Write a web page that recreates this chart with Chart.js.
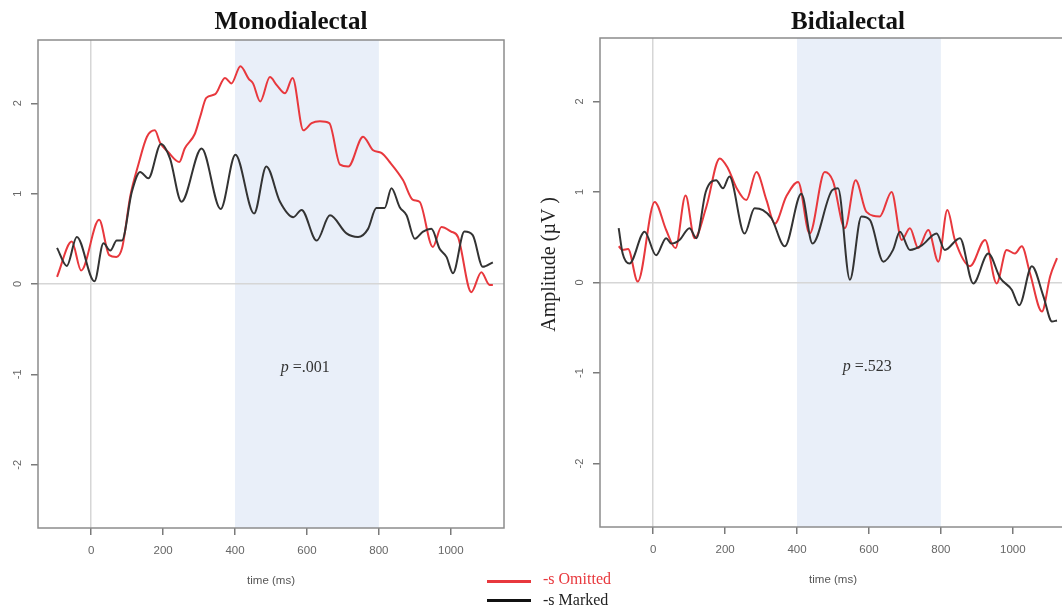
<!DOCTYPE html>
<html>
<head>
<meta charset="utf-8">
<script src="https://cdn.jsdelivr.net/npm/chart.js@4.4.1/dist/chart.umd.min.js"></script>
<style>
  html, body { margin: 0; padding: 0; background: #fff; width: 1062px; height: 609px; overflow: hidden; }
  canvas { position: absolute; top: 0; }
  #mono { left: 0; }
  #bi { left: 531px; }
  .key-line { position: absolute; left: 487px; width: 44px; height: 3px; }
  .key-text { position: absolute; left: 543px; font-family: 'Liberation Serif', serif; font-size: 16px; line-height: 18px; white-space: nowrap; }
</style>
</head>
<body>
<canvas id="mono" width="531" height="609"></canvas>
<canvas id="bi" width="540" height="609"></canvas>

<div class="key-line" style="top:580px; background:#e8383d"></div>
<div class="key-text" style="top:570px; color:#e8383d">-s Omitted</div>
<div class="key-line" style="top:599px; background:#111"></div>
<div class="key-text" style="top:591px; color:#222">-s Marked</div>

<script>
// time (ms) and amplitude (µV)
const monoOmittedTime = [-95, -54, -28, 22, 50, 70, 86, 109, 131, 155, 177, 192, 214, 245, 260, 288, 303, 320, 345, 372, 390, 415, 438, 450, 470, 497, 516, 539, 560, 590, 613, 636, 662, 692, 715, 756, 784, 807, 830, 867, 895, 913, 950, 974, 1001, 1020, 1057, 1085, 1108, 1117];
const monoOmittedAmp  = [0.08, 0.47, 0.15, 0.71, 0.32, 0.30, 0.40, 0.98, 1.32, 1.63, 1.70, 1.56, 1.46, 1.35, 1.50, 1.66, 1.85, 2.06, 2.10, 2.28, 2.22, 2.41, 2.27, 2.22, 2.02, 2.29, 2.20, 2.11, 2.28, 1.70, 1.78, 1.80, 1.78, 1.32, 1.30, 1.63, 1.48, 1.45, 1.35, 1.15, 0.93, 0.91, 0.41, 0.63, 0.58, 0.52, -0.09, 0.13, -0.01, -0.01];

const monoMarkedTime = [-95, -68, -40, 9, 34, 53, 71, 85, 113, 136, 159, 194, 219, 251, 307, 360, 401, 453, 487, 525, 562, 585, 627, 664, 710, 742, 770, 793, 816, 835, 858, 877, 900, 923, 946, 969, 988, 1006, 1038, 1061, 1089, 1117];
const monoMarkedAmp  = [0.40, 0.20, 0.52, 0.03, 0.45, 0.37, 0.48, 0.48, 1.02, 1.24, 1.17, 1.55, 1.39, 0.91, 1.50, 0.83, 1.43, 0.78, 1.30, 0.91, 0.74, 0.82, 0.48, 0.76, 0.56, 0.52, 0.61, 0.84, 0.84, 1.06, 0.85, 0.76, 0.50, 0.58, 0.61, 0.39, 0.30, 0.12, 0.58, 0.54, 0.19, 0.24];

const biOmittedTime = [-96, -85, -70, -43, 4, 36, 62, 90, 115, 148, 185, 208, 231, 259, 287, 315, 338, 370, 403, 435, 477, 500, 533, 563, 593, 630, 663, 691, 714, 737, 765, 793, 818, 839, 881, 923, 955, 983, 1006, 1025, 1048, 1081, 1104, 1123];
const biOmittedAmp  = [0.40, 0.36, 0.37, 0.01, 0.89, 0.58, 0.38, 0.96, 0.49, 0.84, 1.37, 1.26, 1.05, 0.91, 1.22, 0.91, 0.65, 0.95, 1.11, 0.54, 1.22, 1.12, 0.60, 1.13, 0.78, 0.73, 1.00, 0.47, 0.60, 0.38, 0.58, 0.23, 0.80, 0.47, 0.18, 0.47, -0.01, 0.36, 0.32, 0.40, 0.10, -0.32, 0.07, 0.27];

const biMarkedTime = [-96, -85, -66, -24, 8, 36, 50, 73, 101, 120, 146, 175, 194, 212, 254, 282, 305, 329, 366, 412, 443, 498, 514, 547, 579, 603, 640, 667, 686, 714, 747, 788, 811, 853, 890, 932, 965, 997, 1018, 1053, 1085, 1109, 1123];
const biMarkedAmp  = [0.60, 0.32, 0.21, 0.56, 0.30, 0.49, 0.43, 0.47, 0.60, 0.49, 1.00, 1.13, 1.04, 1.17, 0.54, 0.82, 0.80, 0.71, 0.40, 0.98, 0.43, 1.02, 1.04, 0.03, 0.73, 0.69, 0.23, 0.36, 0.56, 0.36, 0.41, 0.54, 0.36, 0.49, -0.01, 0.32, 0.05, -0.08, -0.25, 0.18, -0.15, -0.43, -0.42];

const windowStart = 400;
const windowEnd = 800;

const RED = '#e8383d';
const BLACK = '#333333';

const toPoints = (ts, vs) => ts.map((t, i) => ({ x: t, y: vs[i] }));

// shaded window, plot box, panel title, p value and y label
const panelDecor = {
  id: 'panelDecor',
  beforeDraw(chart) {
    const { ctx, chartArea: a, scales: { x } } = chart;
    const x0 = x.getPixelForValue(windowStart), x1 = x.getPixelForValue(windowEnd);
    ctx.save();
    ctx.fillStyle = '#e9eff9';
    ctx.fillRect(x0, a.top, x1 - x0, a.bottom - a.top);
    ctx.restore();
  },
  afterDraw(chart, args, opts) {
    const { ctx, chartArea: a, scales: { x, y } } = chart;
    ctx.save();
    ctx.strokeStyle = '#8c8c8c';
    ctx.lineWidth = 1.5;
    ctx.strokeRect(a.left, a.top, a.right - a.left, a.bottom - a.top);

    ctx.fillStyle = '#111';
    ctx.font = 'bold 25px "Liberation Serif", serif';
    ctx.textAlign = 'center';
    ctx.textBaseline = 'alphabetic';
    ctx.fillText(opts.title, opts.titleX, 29);

    if (opts.yLabel) {
      ctx.save();
      ctx.translate(19, y.getPixelForValue(0.2));
      ctx.rotate(-Math.PI / 2);
      ctx.fillStyle = '#222';
      ctx.font = '20px "Liberation Serif", serif';
      ctx.textBaseline = 'middle';
      ctx.fillText(opts.yLabel, 0, 0);
      ctx.restore();
    }

    ctx.fillStyle = '#333';
    ctx.textAlign = 'left';
    ctx.textBaseline = 'middle';
    const px = x.getPixelForValue(595), py = y.getPixelForValue(-0.93);
    ctx.font = 'italic 16px "Liberation Serif", serif';
    const w1 = ctx.measureText('p').width;
    ctx.font = '16px "Liberation Serif", serif';
    const w2 = ctx.measureText(' =' + opts.pValue).width;
    const left = px - (w1 + w2) / 2;
    ctx.font = 'italic 16px "Liberation Serif", serif';
    ctx.fillText('p', left, py);
    ctx.font = '16px "Liberation Serif", serif';
    ctx.fillText(' =' + opts.pValue, left + w1, py);
    ctx.restore();
  }
};

function makePanel(id, omitted, marked, o) {
  const zeroOnly = ctx => (ctx.tick && ctx.tick.value === 0) ? '#d6d6d6' : 'rgba(0,0,0,0)';
  return new Chart(document.getElementById(id), {
    type: 'line',
    data: {
      datasets: [
        { label: '-s Marked', data: marked, borderColor: BLACK, borderWidth: 2, pointRadius: 0, cubicInterpolationMode: 'monotone', fill: false },
        { label: '-s Omitted', data: omitted, borderColor: RED, borderWidth: 2, pointRadius: 0, cubicInterpolationMode: 'monotone', fill: false }
      ]
    },
    options: {
      responsive: false,
      animation: false,
      events: [],
      layout: { padding: o.padding },
      plugins: {
        legend: { display: false },
        tooltip: { enabled: false },
        panelDecor: { title: o.title, titleX: o.titleX, pValue: o.pValue, yLabel: o.yLabel }
      },
      scales: {
        x: {
          type: 'linear', min: -148, max: 1148,
          border: { display: false },
          grid: { color: zeroOnly, tickColor: '#7a7a7a', tickLength: 7, lineWidth: 1.5 },
          ticks: { stepSize: 200, includeBounds: false, maxRotation: 0, padding: 9, color: '#666', font: { family: 'Liberation Sans', size: 11.5 }, callback: v => String(v) },
          title: { display: true, text: 'time (ms)', color: '#555', font: { family: 'Liberation Sans', size: 11.5 }, padding: 0 },
          afterFit: s => { s.height = 60; }
        },
        y: {
          min: -2.7, max: 2.7,
          border: { display: false },
          grid: { color: zeroOnly, tickColor: '#7a7a7a', tickLength: 7, lineWidth: 1.5 },
          ticks: { stepSize: 1, includeBounds: false, minRotation: 90, maxRotation: 90, crossAlign: 'center', padding: 8, color: '#666', font: { family: 'Liberation Sans', size: 11 } },
          afterFit: s => { s.width = o.yWidth; }
        }
      }
    },
    plugins: [panelDecor]
  });
}

makePanel('mono', toPoints(monoOmittedTime, monoOmittedAmp), toPoints(monoMarkedTime, monoMarkedAmp), {
  title: 'Monodialectal', titleX: 291, pValue: '.001', yWidth: 38,
  padding: { top: 40, right: 27, bottom: 21, left: 0 }
});

makePanel('bi', toPoints(biOmittedTime, biOmittedAmp), toPoints(biMarkedTime, biMarkedAmp), {
  title: 'Bidialectal', titleX: 317, pValue: '.523', yWidth: 69, yLabel: 'Amplitude (µV )',
  padding: { top: 38, right: 5, bottom: 22, left: 0 }
});
</script>
</body>
</html>
